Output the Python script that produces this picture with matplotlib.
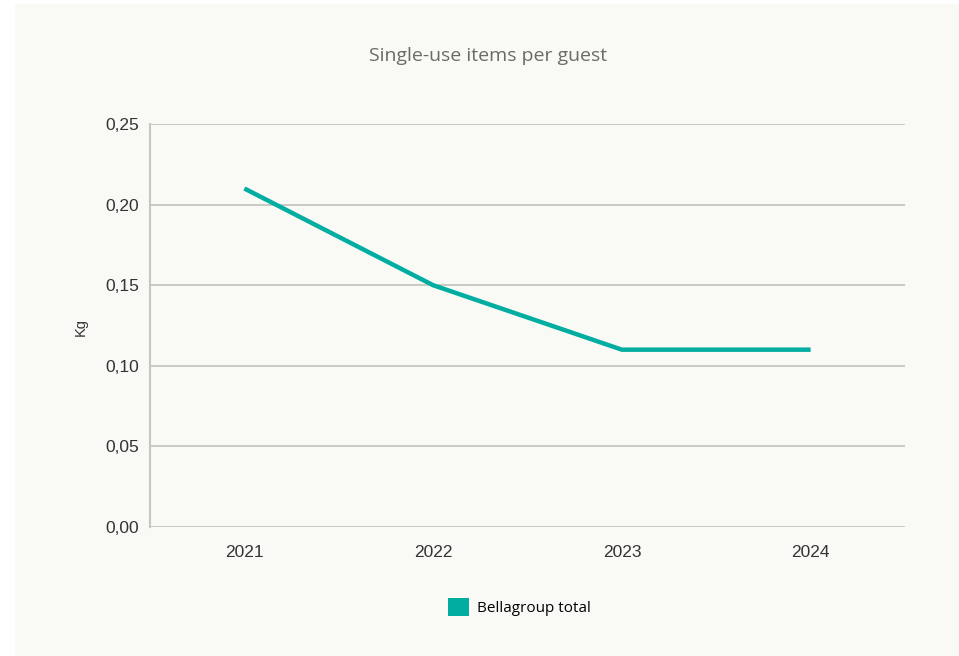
import matplotlib
matplotlib.use('Agg')
import matplotlib.pyplot as plt
from matplotlib.patches import Rectangle, Patch
from matplotlib.ticker import FuncFormatter

# Data
years = ['2021', '2022', '2023', '2024']
kg_per_guest = [0.21, 0.15, 0.11, 0.11]
y_ticks = [0.00, 0.05, 0.10, 0.15, 0.20, 0.25]

teal = '#00ADA0'
panel_bg = '#F9F9F5'
grid_col = '#C6C6C2'

fig = plt.figure(figsize=(9.59, 6.56), dpi=100, facecolor='white')
# light panel behind everything
fig.patches.append(Rectangle((15 / 959, 0), 1 - 15 / 959, 1 - 4 / 656,
                             transform=fig.transFigure, facecolor=panel_bg,
                             edgecolor='none', zorder=-10))

ax = fig.add_axes([150 / 959, 1 - 527 / 656, (905 - 150) / 959, (527 - 124) / 656])
ax.set_facecolor(panel_bg)

x = list(range(len(years)))
ax.plot(x, kg_per_guest, color=teal, linewidth=3.2, solid_capstyle='butt', zorder=3)

ax.set_xlim(-0.5, len(years) - 0.5)
ax.set_ylim(0, 0.25)
ax.set_xticks(x)
ax.set_xticklabels(years)
ax.set_yticks(y_ticks)
ax.yaxis.set_major_formatter(FuncFormatter(lambda v, p: f'{v:.2f}'.replace('.', ',')))

ax.grid(True, axis='y', color=grid_col, linewidth=1.3, zorder=1)
ax.set_axisbelow(True)
for s in ['top', 'right', 'bottom']:
    ax.spines[s].set_visible(False)
ax.spines['left'].set_color(grid_col)
ax.spines['left'].set_linewidth(1.5)

ax.tick_params(axis='both', length=0, labelsize=12.5, labelcolor='#333333')
ax.tick_params(axis='y', pad=8)
ax.tick_params(axis='x', pad=13)
for lbl in ax.get_xticklabels() + ax.get_yticklabels():
    lbl.set_fontfamily('Liberation Sans')

ax.set_ylabel('Kg', fontsize=10.5, color='#333333', fontfamily='Liberation Sans')
ax.yaxis.set_label_coords((88 - 150) / 755, (527 - 327) / 403)

fig.text(488 / 959, 1 - 56 / 656, 'Single-use items per guest', ha='center', va='center',
         fontsize=14, color='#6B6B66', fontfamily='Open Sans')

handle = Patch(facecolor=teal, edgecolor='none')
fig.legend([handle], ['Bellagroup total'], loc='center', bbox_to_anchor=(519 / 959, 1 - 607 / 656),
           frameon=False, handlelength=1.4, handleheight=1.4, handletextpad=0.5,
           prop={'family': 'Open Sans', 'size': 11})

plt.savefig('out.png', dpi=100, facecolor='white')
plt.close()
